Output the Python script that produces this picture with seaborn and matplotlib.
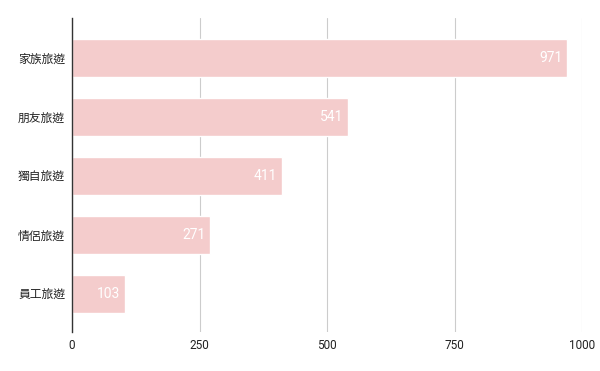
import matplotlib
matplotlib.use("Agg")
import matplotlib.pyplot as plt
import seaborn as sns
import pandas as pd

categories = ["家族旅遊", "朋友旅遊", "獨自旅遊", "情侶旅遊", "員工旅遊"]
values = [971, 541, 411, 271, 103]
xticks = [0, 250, 500, 750, 1000]

df = pd.DataFrame({"cat": categories, "val": values})

sns.set_theme(style="white")
plt.rcParams['font.family'] = ['Noto Sans CJK TC', 'DejaVu Sans']

fig = plt.figure(figsize=(6, 3.71), dpi=100)
ax = fig.add_axes([0.12, 0.1051, 0.85, 0.8464])

sns.barplot(data=df, x="val", y="cat", color="#f4cccc", saturation=1, width=0.644, ax=ax, zorder=3)

ax.set_xlim(0, 1000)
ax.set_ylim(4.644, -0.678)
ax.set_xticks(xticks)
ax.set_xticklabels([str(t) for t in xticks], fontsize=8.5, color="#222222", family=["Roboto", "DejaVu Sans"])
ax.tick_params(axis="y", labelsize=8.5, labelcolor="#222222", length=0, pad=5)
ax.tick_params(axis="x", length=0, pad=5)
ax.set_xlabel("")
ax.set_ylabel("")
ax.xaxis.grid(True, color="#cccccc", linewidth=0.8, zorder=0)
ax.yaxis.grid(False)
for s in ["top", "right", "bottom"]:
    ax.spines[s].set_visible(False)
ax.spines["left"].set_color("#333333")
ax.spines["left"].set_linewidth(1)
ax.spines["left"].set_zorder(4)

for i, v in enumerate(values):
    ax.text(v - 9, i, str(v), ha="right", va="center", color="white", fontsize=10,
            family=["Roboto", "DejaVu Sans"], zorder=5)

fig.savefig("out.png", dpi=100)
